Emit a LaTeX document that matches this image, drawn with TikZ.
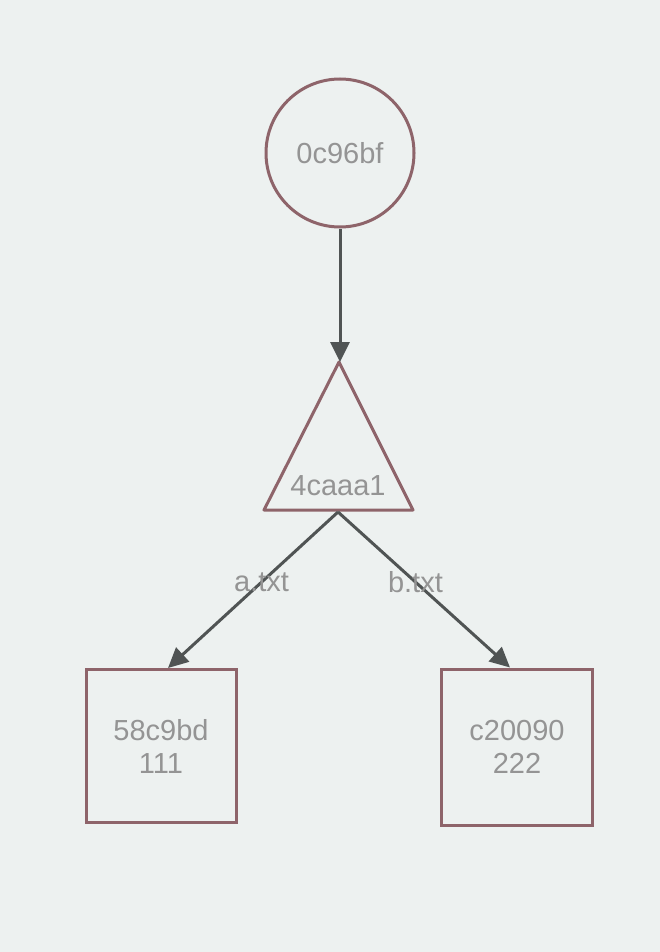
\documentclass[tikz,border=0pt]{standalone}
\usepackage{fontspec}
\setmainfont{Liberation Sans}
\usepackage{xcolor}
\usetikzlibrary{shapes,arrows.meta,positioning,calc}

\definecolor{bgcol}{HTML}{EDF1F0}
\definecolor{shapecol}{HTML}{8E646A}
\definecolor{labelcol}{HTML}{949494}
\definecolor{linkcol}{HTML}{505454}

\begin{document}
\begin{tikzpicture}[x=1pt, y=-1pt,
    obj/.style={draw=shapecol, line width=3pt, text=labelcol, inner sep=0pt,
        font=\fontsize{29}{33}\selectfont},
    link/.style={draw=linkcol, line width=3pt, -{Triangle[length=20pt,width=19pt]}},
    tag/.style={text=labelcol, font=\fontsize{29}{33}\selectfont}]
    % background
    \fill[bgcol] (0,0) rectangle (660,952);

    % commit
    \node[obj, circle, minimum size=148pt] (commit) at (340,153) {0c96bf};

    % tree
    \draw[shapecol, line width=3pt, line join=round]
        (339,362) coordinate (treetop) -- (413,510) -- (264,510) -- cycle;
    \coordinate (treebot) at (338,512);
    \node[tag] (tree) at (338,486) {4caaa1};

    % blobs
    \node[obj, rectangle, minimum width=150pt, minimum height=153pt, align=center]
        (blobA) at (161,746) {58c9bd\\111};
    \node[obj, rectangle, minimum width=151pt, minimum height=156pt, align=center]
        (blobB) at (517,747) {c20090\\222};

    % links
    \draw[link] (commit.south) -- ([xshift=1pt]treetop);
    \draw[link] (treebot) -- ([xshift=7pt]blobA.north) node[tag, pos=0.45] {a.txt};
    \draw[link] (treebot) -- ([xshift=-7pt]blobB.north) node[tag, pos=0.45] {b.txt};
\end{tikzpicture}
\end{document}
